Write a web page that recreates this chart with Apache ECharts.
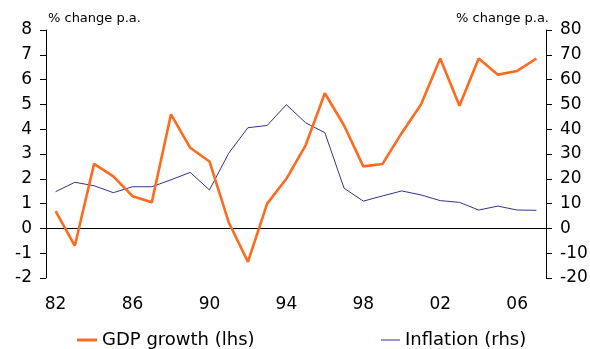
<!DOCTYPE html>
<html>
<head>
<meta charset="utf-8">
<script src="https://cdn.jsdelivr.net/npm/echarts@6/dist/echarts.min.js"></script>
<style>
  html, body { margin: 0; padding: 0; background: #fff; }
  #chart { width: 590px; height: 349px; }
</style>
</head>
<body>
<div id="chart"></div>
<script>
// Annual data, 1982-2007
const years = ['82','83','84','85','86','87','88','89','90','91','92','93','94',
               '95','96','97','98','99','00','01','02','03','04','05','06','07'];

// Real GDP growth, % change p.a. (left axis)
const gdpGrowth = [0.7, -0.7, 2.6, 2.1, 1.3, 1.05, 4.6, 3.25, 2.7, 0.25, -1.35, 1.0, 2.0,
                   3.35, 5.45, 4.15, 2.5, 2.6, 3.85, 5.0, 6.85, 4.95, 6.85, 6.2, 6.35, 6.85];

// Consumer price inflation, % change p.a. (right axis)
const inflation = [14.8, 18.6, 17.2, 14.4, 16.8, 16.8, 19.6, 22.6, 15.5, 30.3, 40.6, 41.5, 49.9,
                   42.6, 38.6, 16.2, 11.0, 13.1, 15.1, 13.5, 11.2, 10.5, 7.4, 9.0, 7.4, 7.3];

const FONT = 'DejaVu Sans, Verdana, sans-serif';
const ORANGE = '#FF6A1F';
const NAVY = '#333391';

const chart = echarts.init(document.getElementById('chart'), null, { renderer: 'canvas' });

chart.setOption({
  animation: false,
  backgroundColor: '#fff',
  textStyle: { fontFamily: FONT },
  grid: { left: 46, right: 44, top: 30, bottom: 71, containLabel: false, outerBoundsMode: 'none' },
  legend: [
    {
      data: [{ name: 'GDP growth (lhs)', icon: 'rect', itemStyle: { color: ORANGE } }],
      left: 77, top: 331, padding: 0,
      itemWidth: 20, itemHeight: 3,
      textStyle: { fontFamily: FONT, fontSize: 18, color: '#000' }
    },
    {
      data: [{ name: 'Inflation (rhs)', icon: 'rect', itemStyle: { color: NAVY } }],
      left: 381, top: 331, padding: 0,
      itemWidth: 19, itemHeight: 1,
      textStyle: { fontFamily: FONT, fontSize: 18, color: '#000' }
    }
  ],
  xAxis: [
    {
      // axis line through zero with ticks between year groups
      type: 'category',
      data: years,
      boundaryGap: true,
      axisLine: { onZero: true, onZeroAxisIndex: 0, lineStyle: { color: '#000', width: 1 } },
      axisTick: { interval: 3, length: 5, lineStyle: { color: '#000' } },
      axisLabel: { show: false },
      splitLine: { show: false }
    },
    {
      // year labels along the bottom of the plot
      type: 'category',
      data: years,
      boundaryGap: true,
      position: 'bottom',
      axisLine: { show: false, onZero: false },
      axisTick: { show: false },
      axisLabel: { interval: 3, margin: 18, fontSize: 17, color: '#000', fontFamily: FONT },
      splitLine: { show: false }
    }
  ],
  yAxis: [
    {
      type: 'value',
      min: -2, max: 8, interval: 1,
      name: '% change p.a.',
      nameLocation: 'end',
      nameGap: 11,
      nameTextStyle: { fontSize: 13, color: '#000', fontFamily: FONT, align: 'left', verticalAlign: 'middle', padding: [0, 0, 0, 2] },
      axisLine: { show: true, lineStyle: { color: '#000' } },
      axisTick: { show: true, length: 6, lineStyle: { color: '#000' } },
      axisLabel: { margin: 14, fontSize: 17, color: '#000', fontFamily: FONT },
      splitLine: { show: false }
    },
    {
      type: 'value',
      min: -20, max: 80, interval: 10,
      position: 'right',
      name: '% change p.a.',
      nameLocation: 'end',
      nameGap: 11,
      nameTextStyle: { fontSize: 13, color: '#000', fontFamily: FONT, align: 'right', verticalAlign: 'middle', padding: [0, -3, 0, 0] },
      axisLine: { show: true, lineStyle: { color: '#000' } },
      axisTick: { show: true, length: 6, lineStyle: { color: '#000' } },
      axisLabel: { margin: 14, fontSize: 17, color: '#000', fontFamily: FONT },
      splitLine: { show: false }
    }
  ],
  series: [
    {
      name: 'Inflation (rhs)',
      type: 'line',
      xAxisIndex: 0,
      yAxisIndex: 1,
      data: inflation,
      symbol: 'none',
      lineStyle: { color: NAVY, width: 1 },
      itemStyle: { color: NAVY },
      z: 2
    },
    {
      name: 'GDP growth (lhs)',
      type: 'line',
      xAxisIndex: 0,
      yAxisIndex: 0,
      data: gdpGrowth,
      symbol: 'none',
      lineStyle: { color: ORANGE, width: 2.6 },
      itemStyle: { color: ORANGE },
      z: 3
    }
  ]
});
</script>
</body>
</html>
